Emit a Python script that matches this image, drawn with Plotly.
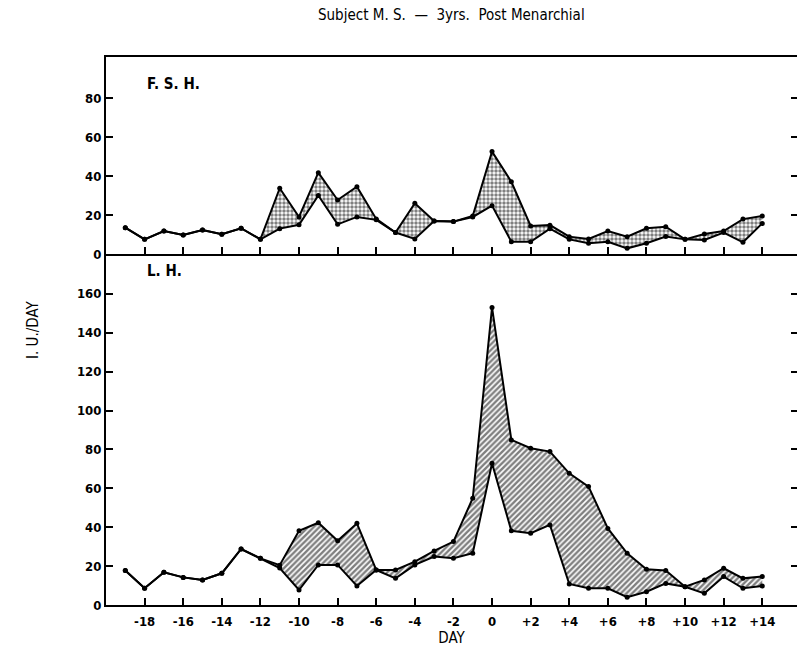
import plotly.graph_objects as go

days = list(range(-19, 15))
fsh_upper = [13.5, 7.5, 11.8, 9.7, 12.3, 10.1, 13.2, 7.5, 33.7, 19, 41.7, 27.7, 34.5, 18, 11, 26, 16.9, 16.6, 19.5,
             52.5, 37, 14.4, 14.8, 8.9, 7.7, 11.8, 8.9, 13.2, 14, 7.5, 10.2, 11.8, 17.9, 19.5]
fsh_lower = [13.5, 7.5, 11.8, 9.7, 12.3, 10.1, 13.2, 7.5, 13, 15, 30, 15.2, 19, 17.5, 11, 7.7, 16.9, 16.6, 19,
             24.8, 6.3, 6.3, 13, 7.5, 5.5, 6.3, 2.9, 5.5, 9, 7.5, 7.2, 11, 6, 15.7]
lh_upper = [17.7, 8.6, 16.8, 14.2, 12.9, 16.3, 28.8, 24, 20.5, 38.2, 42.3, 33, 42, 18, 18, 22.3, 27.8, 32.6, 54.9,
            153, 84.9, 80.6, 78.9, 67.7, 60.9, 39.4, 26.6, 18.4, 17.7, 9.4, 12.9, 18.9, 13.7, 14.6]
lh_lower = [17.7, 8.6, 16.8, 14.2, 12.9, 16.3, 28.8, 24, 19, 7.7, 20.6, 20.6, 9.8, 18, 13.7, 20.6, 24.9, 24, 26.6,
            72.9, 38.2, 36.9, 41.2, 10.8, 8.6, 8.6, 4, 6.8, 11.1, 9.4, 6, 14.6, 8.6, 9.8]

x_tickvals = list(range(-18, 15, 2))
x_ticktext = [str(v) if v <= 0 else "+" + str(v) for v in x_tickvals]
fsh_ticks = [0, 20, 40, 60, 80]
lh_ticks = [0, 20, 40, 60, 80, 100, 120, 140, 160]

FONT = "Liberation Sans Narrow, DejaVu Sans Condensed, sans-serif"

fig = go.Figure()
line = dict(color="black", width=2)
marker = dict(color="black", size=5)

fig.add_trace(go.Scatter(x=days, y=fsh_lower, mode="lines+markers", line=line, marker=marker,
                         xaxis="x", yaxis="y", showlegend=False))
fig.add_trace(go.Scatter(x=days, y=fsh_upper, mode="lines+markers", line=line, marker=marker,
                         xaxis="x", yaxis="y", fill="tonexty", fillcolor="#888",
                         fillpattern=dict(shape=".", bgcolor="white", fgcolor="black", size=4, solidity=0.6),
                         showlegend=False))
fig.add_trace(go.Scatter(x=days, y=lh_lower, mode="lines+markers", line=line, marker=marker,
                         xaxis="x2", yaxis="y2", showlegend=False))
fig.add_trace(go.Scatter(x=days, y=lh_upper, mode="lines+markers", line=line, marker=marker,
                         xaxis="x2", yaxis="y2", fill="tonexty", fillcolor="#555",
                         fillpattern=dict(shape="/", bgcolor="white", fgcolor="black", size=4, solidity=0.6),
                         showlegend=False))

split = 197 / 548
XR = [-20, 15.8]
xcommon = dict(range=XR, tickvals=x_tickvals, showgrid=False, zeroline=False,
               showline=True, linecolor="black", linewidth=2, ticks="inside", ticklen=7,
               tickwidth=2, tickcolor="black")
ycommon = dict(showgrid=False, zeroline=False, showline=True, linecolor="black", linewidth=2,
               ticks="inside", ticklen=7, tickwidth=2, tickcolor="black",
               tickfont=dict(family=FONT, size=13, color="black", weight="bold"))
yright = dict(showgrid=False, zeroline=False, showline=False, side="right",
              ticks="inside", ticklen=6, tickwidth=2, tickcolor="black", showticklabels=False)

fig.update_layout(
    width=797, height=659,
    margin=dict(l=106, r=0, t=57, b=54),
    paper_bgcolor="white", plot_bgcolor="white",
    font=dict(family=FONT, color="black"),
    xaxis=dict(**xcommon, anchor="y", showticklabels=False, mirror=True),
    yaxis=dict(**ycommon, domain=[1 - split, 1], range=[0, 101], tickvals=fsh_ticks, anchor="x"),
    yaxis3=dict(**yright, domain=[1 - split, 1], range=[0, 101], tickvals=fsh_ticks[1:], anchor="x",
                overlaying="y"),
    xaxis2=dict(**xcommon, anchor="y2", ticktext=x_ticktext, ticklabelstandoff=3,
                tickfont=dict(family=FONT, size=13, color="black", weight="bold"),
                title=dict(text="DAY", font=dict(family=FONT, size=15, color="black"), standoff=5)),
    yaxis2=dict(**ycommon, domain=[0, 1 - split], range=[0, 180.5], tickvals=lh_ticks, anchor="x2"),
    yaxis4=dict(**yright, domain=[0, 1 - split], range=[0, 180.5], tickvals=lh_ticks[1:], anchor="x2",
                overlaying="y2"),
    annotations=[
        dict(text="Subject M. S.  \u2014  3yrs.  Post Menarchial", x=0.5, y=1, xref="paper", yref="paper",
             xanchor="center", yanchor="middle", showarrow=False,
             font=dict(family=FONT, size=15, color="black")),
        dict(text="<b>F. S. H.</b>", x=-18, y=87, xref="x", yref="y", xanchor="left", yanchor="middle",
             showarrow=False, font=dict(family=FONT, size=15, color="black")),
        dict(text="<b>L. H.</b>", x=-18, y=172, xref="x2", yref="y2", xanchor="left", yanchor="middle",
             showarrow=False, font=dict(family=FONT, size=15, color="black")),
        dict(text="I. U./DAY", x=22, y=330, xref="paper", yref="paper", showarrow=False, textangle=-90,
             font=dict(family=FONT, size=15, color="black")),
    ],
)
# invisible anchor traces so the right-side tick axes are drawn
fig.add_trace(go.Scatter(x=[XR[0]], y=[0], xaxis="x", yaxis="y3", mode="markers",
                         marker=dict(opacity=0), hoverinfo="skip", showlegend=False))
fig.add_trace(go.Scatter(x=[XR[0]], y=[0], xaxis="x2", yaxis="y4", mode="markers",
                         marker=dict(opacity=0), hoverinfo="skip", showlegend=False))

plot_h = 659 - 57 - 54
plot_w = 797 - 106
fig.layout.annotations[0].y = 1 + (57 - 15) / plot_h
fig.layout.annotations[3].x = (22 - 106) / plot_w
fig.layout.annotations[3].y = (605 - 330) / plot_h

fig.write_html("out.html")
